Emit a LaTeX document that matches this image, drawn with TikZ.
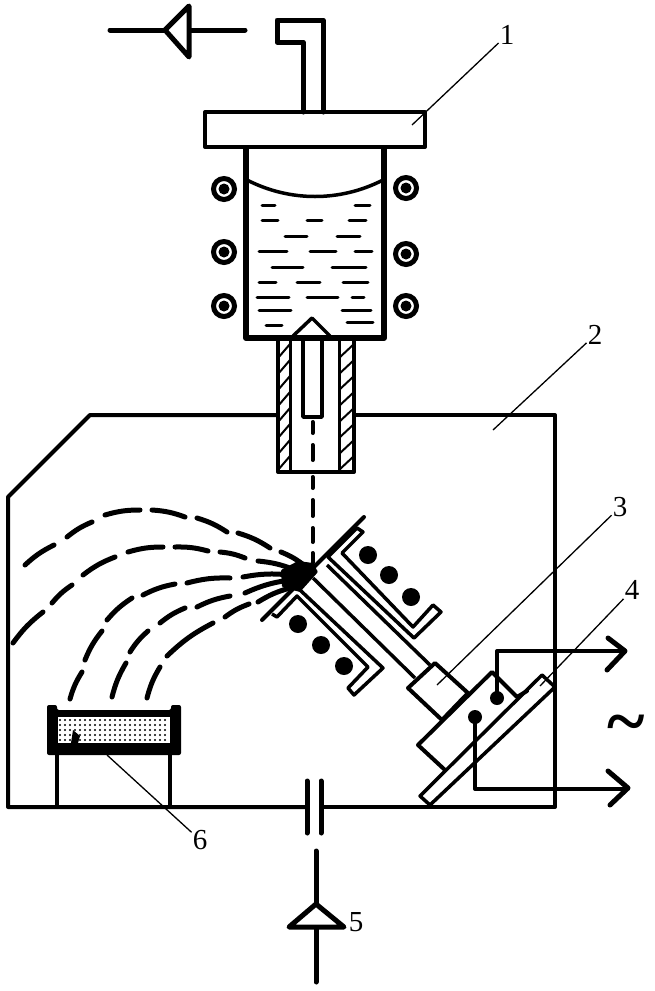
\documentclass[tikz,border=0pt]{standalone}
\usepackage{fontspec}
\setmainfont{Liberation Serif}

\begin{document}
\begin{tikzpicture}[x=1pt, y=-1pt, wall/.style={line width=4pt, line join=round, line cap=round},
  fine/.style={line width=3pt, line join=round}, stroke/.style={line width=5pt, line join=round, line cap=round},
  leader/.style={line width=1.3pt}, lbl/.style={inner sep=1pt, font=\fontsize{29}{29}\selectfont},
  spray/.style={line width=5pt, line cap=round}]
\useasboundingbox (0,0) rectangle (655,991);

% pump outlet and feed pipe
\draw[stroke] (110,30) -- (245,30);
\draw[stroke, fill=white] (165,30) -- (189,6) -- (189,57) -- cycle;
\draw[stroke] (303,112) -- (303,42) -- (277,42) -- (277,20) -- (323,20) -- (323,112);
\draw[wall] (205,112) rectangle (425,147);

% crucible
\draw[line width=6pt, line join=round] (246,147) -- (246,338) -- (384,338) -- (384,147);
\draw[fine, line width=3.5pt] (247,180) .. controls (290,202) and (340,202) .. (383,180);
\foreach \xa/\xb/\y in {262/275/205, 355/370/205, 262/278/220, 307/322/220, 349/366/220, 285/307/236,
  337/360/236, 259/287/251, 310/336/251, 355/372/251, 272/303/267, 332/366/267, 259/276/282, 297/320/282,
  343/368/282, 257/289/297, 307/338/297, 352/364/297, 259/291/310, 342/371/310, 266/282/325, 347/373/322}{
  \draw[line width=3pt, line cap=round] (\xa,\y) -- (\xb,\y);
}
\draw[fine, line width=3.5pt] (293,336) -- (312,318) -- (330,336);
\foreach \x/\y in {224/189, 224/252, 224/306, 406/188, 406/254, 406/306}{
  \draw[line width=5pt] (\x,\y) circle[radius=10.5pt];
  \fill (\x,\y) circle[radius=5.5pt];
}

% nozzle
\draw[wall] (278,338) -- (278,472) -- (354,472) -- (354,338);
\draw[fine] (290,338) -- (290,472);
\draw[fine] (339,338) -- (339,472);
\foreach \y in {351,367,...,463}{
  \draw[line width=2pt] (278,\y+7) -- (290,\y-7);
  \draw[line width=2pt] (339,\y+7) -- (354,\y-7);
}
\draw[fine, line width=3.5pt] (303,338) -- (303,417) -- (322,417) -- (322,338);
\foreach \ya/\yb in {422/433, 445/460, 477/488, 500/516, 528/542, 553/563}{
  \draw[wall] (312.5,\ya) -- (312.5,\yb);
}

% chamber
\draw[wall] (278,415) -- (90,415) -- (8,497) -- (8,807) -- (307,807);
\draw[wall] (321,807) -- (555,807) -- (555,415) -- (354,415);
\draw[stroke] (307,781) -- (307,833);
\draw[stroke] (321,781) -- (321,833);
\draw[stroke] (316,851) -- (316,982);
\draw[stroke, fill=white] (316,904) -- (289,927) -- (344,927) -- cycle;

% target on its legs
\draw[wall] (57,754) -- (57,807);
\draw[wall] (170,754) -- (170,807);
\fill[rounded corners=2pt] (47,705) -- (57,705) -- (57,710) -- (171,710) -- (171,705) -- (181,705)
  -- (181,755) -- (47,755) -- cycle;
\fill[white] (58,717) rectangle (170,743);
\foreach \x in {60,65,...,168}{
  \foreach \y in {720,725,...,741}{
    \fill (\x,\y) circle[radius=1.2pt];
  }
}
\fill (73,730) -- (80,736) -- (78,743) -- (71,743) -- cycle;

% sputtered paths
\foreach \xa/\ya/\xb/\yb in {25/565/54/545, 67/537/92/522, 105/515/140/510, 152/510/185/517, 197/518/227/532,
  238/533/270/548, 281/552/305/566, 13/643/43/612, 52/603/72/585, 83/575/115/557, 128/552/163/547, 175/547/208/551,
  220/552/245/558, 258/561/295/570, 70/699/82/672, 85/660/102/631, 107/620/132/598, 143/595/175/584, 187/583/230/578,
  243/577/290/575, 112/697/126/663, 130/652/148/631, 160/623/185/608, 197/607/230/596, 245/593/290/580,
  147/698/160/667, 167/656/213/623, 225/617/249/604, 258/602/290/588}{
  \draw[spray] (\xa,\ya) to[bend left=8] (\xb,\yb);
}
\fill[rounded corners=1pt] (313,563) -- (318,572) -- (300,592) -- (282,587) -- (281,570) -- (298,561) -- cycle;

% cathode with its two shields
\draw[wall] (364,517) -- (312,569);
\draw[wall] (262,620) -- (300,582);
\draw[fine, line width=3.5pt] (342,553) -- (363,532) -- (357,528) -- (328,557) -- (414,638) -- (441,612) -- (433,605)
  -- (413,627) -- cycle;
\draw[fine, line width=3.5pt] (300,590) -- (383,668) -- (354,695) -- (348,688) -- (368,667) -- (297,596) -- (277,617)
  -- (272,614);
\draw[fine, line width=3.5pt] (327,565) -- (430,665);
\draw[fine, line width=3.5pt] (313,578) -- (415,678);
\foreach \x/\y in {368/555, 389/575, 411/597, 298/624, 321/645, 344/666}{
  \fill (\x,\y) circle[radius=9pt];
}
\draw[wall, fill=white] (435,663) -- (468,693) -- (442,720) -- (408,688) -- cycle;
\draw[wall] (445,770) -- (418,745) -- (492,672) -- (517,697) -- (527,691);
\draw[fine, line width=3.5pt] (420,796) -- (542,675) -- (555,687) -- (430,805) -- cycle;

% wires to the supply
\draw[wall] (497,698) -- (497,651) -- (625,651);
\draw[wall] (475,717) -- (475,789) -- (627,789);
\fill (497,698) circle[radius=7pt];
\fill (475,717) circle[radius=7pt];
\draw[stroke] (608,638) -- (625,651) -- (607,670);
\draw[stroke] (608,771) -- (628,788) -- (610,805);
\node[inner sep=0pt, font=\fontsize{72}{72}\selectfont\bfseries] (supply) at (626,730) {\textasciitilde};

% numbered leaders
\node[lbl] (n1) at (507,35) {1};
\node[lbl] (n2) at (595,335) {2};
\node[lbl] (n3) at (620,507) {3};
\node[lbl] (n4) at (632,590) {4};
\node[lbl] (n5) at (356,922) {5};
\node[lbl] (n6) at (200,840) {6};
\coordinate (p1) at (412,125);
\coordinate (p2) at (493,430);
\coordinate (p3) at (437,685);
\coordinate (p4) at (540,686);
\coordinate (p6) at (107,755);
\draw[leader] (n1) -- (p1);
\draw[leader] (n2) -- (p2);
\draw[leader] (n3) -- (p3);
\draw[leader] (n4) -- (p4);
\draw[leader] (n6) -- (p6);
\end{tikzpicture}
\end{document}
